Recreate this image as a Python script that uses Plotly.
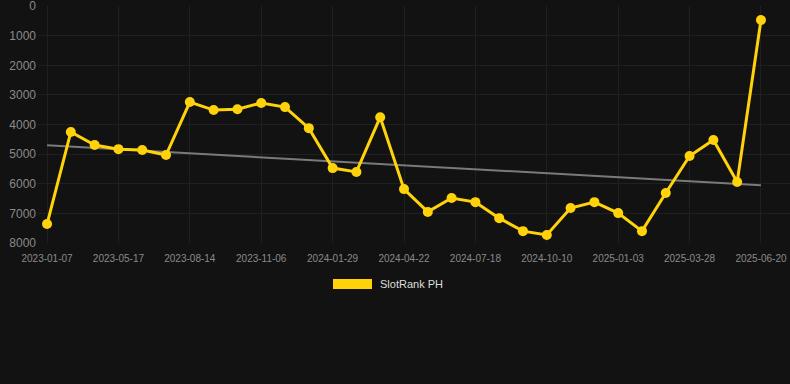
import plotly.graph_objects as go

dates = ["2023-01-07", "2023-02-20", "2023-04-03", "2023-05-17", "2023-06-14", "2023-07-17",
         "2023-08-14", "2023-09-11", "2023-10-09", "2023-11-06", "2023-12-04", "2024-01-01",
         "2024-01-29", "2024-02-26", "2024-03-25", "2024-04-22", "2024-05-20", "2024-06-20",
         "2024-07-18", "2024-08-15", "2024-09-12", "2024-10-10", "2024-11-07", "2024-12-06",
         "2025-01-03", "2025-01-31", "2025-02-28", "2025-03-28", "2025-04-25", "2025-05-23",
         "2025-06-20"]
ranks = [7360, 4250, 4690, 4830, 4860, 5030, 3240, 3510, 3480, 3270, 3410, 4120,
         5470, 5600, 3750, 6180, 6950, 6480, 6620, 7160, 7600, 7730, 6820, 6620,
         6990, 7600, 6310, 5060, 4520, 5940, 470]
trend_dates = [dates[0], dates[-1]]
trend_values = [4700, 6050]
tick_dates = dates[::3]
y_ticks = [0, 1000, 2000, 3000, 4000, 5000, 6000, 7000, 8000]
series_name = "SlotRank PH"

gold = "#FFD20A"
bg = "#121212"
grid = "#202020"
tick_color = "#8a8a8a"

L = 38
W = 790 - L
H = 243 - 6

fig = go.Figure()
fig.add_trace(go.Scatter(x=trend_dates, y=trend_values, mode="lines",
                         line=dict(color="#7a7a7a", width=2), showlegend=False,
                         hoverinfo="skip"))
fig.add_trace(go.Scatter(x=dates, y=ranks, mode="lines+markers", name=series_name,
                         line=dict(color=gold, width=3),
                         marker=dict(color=gold, size=10), showlegend=False))

fig.update_layout(
    width=790, height=384,
    paper_bgcolor=bg, plot_bgcolor=bg,
    margin=dict(l=L, r=0, t=6, b=141),
    font=dict(family="Liberation Sans, Arial, sans-serif", color=tick_color),
    showlegend=False,
    xaxis=dict(type="category", categoryorder="array", categoryarray=dates,
               range=[-0.38, 31.22], tickmode="array", tickvals=tick_dates,
               ticktext=tick_dates, tickfont=dict(size=10, color=tick_color),
               showgrid=True, gridcolor=grid, gridwidth=1, zeroline=False,
               showline=False, ticks="", ticklen=0, ticklabelstandoff=8,
               ticklabeloverflow="allow"),
    yaxis=dict(range=[8000, -5], tickmode="array", tickvals=y_ticks,
               tickfont=dict(size=12, color=tick_color), showgrid=True,
               gridcolor=grid, gridwidth=1, zeroline=False, showline=False,
               ticks="", ticklabelstandoff=1, ticklabeloverflow="allow"),
)

# legend drawn manually
fig.add_shape(type="rect", xref="paper", yref="paper",
              x0=(333 - L) / W, x1=(372 - L) / W,
              y0=(243 - 289) / H, y1=(243 - 279) / H,
              fillcolor=gold, line=dict(width=0))
fig.add_annotation(xref="paper", yref="paper", x=(378 - L) / W, y=(243 - 284) / H,
                   text=series_name, showarrow=False, xanchor="left", yanchor="middle",
                   font=dict(size=11, color="#dddddd", family="Liberation Sans, Arial, sans-serif"))

fig.write_html("out.html", config={"displayModeBar": False},
               post_script="document.body.style.margin='0';document.body.style.background='#121212';document.body.style.overflow='hidden';")
